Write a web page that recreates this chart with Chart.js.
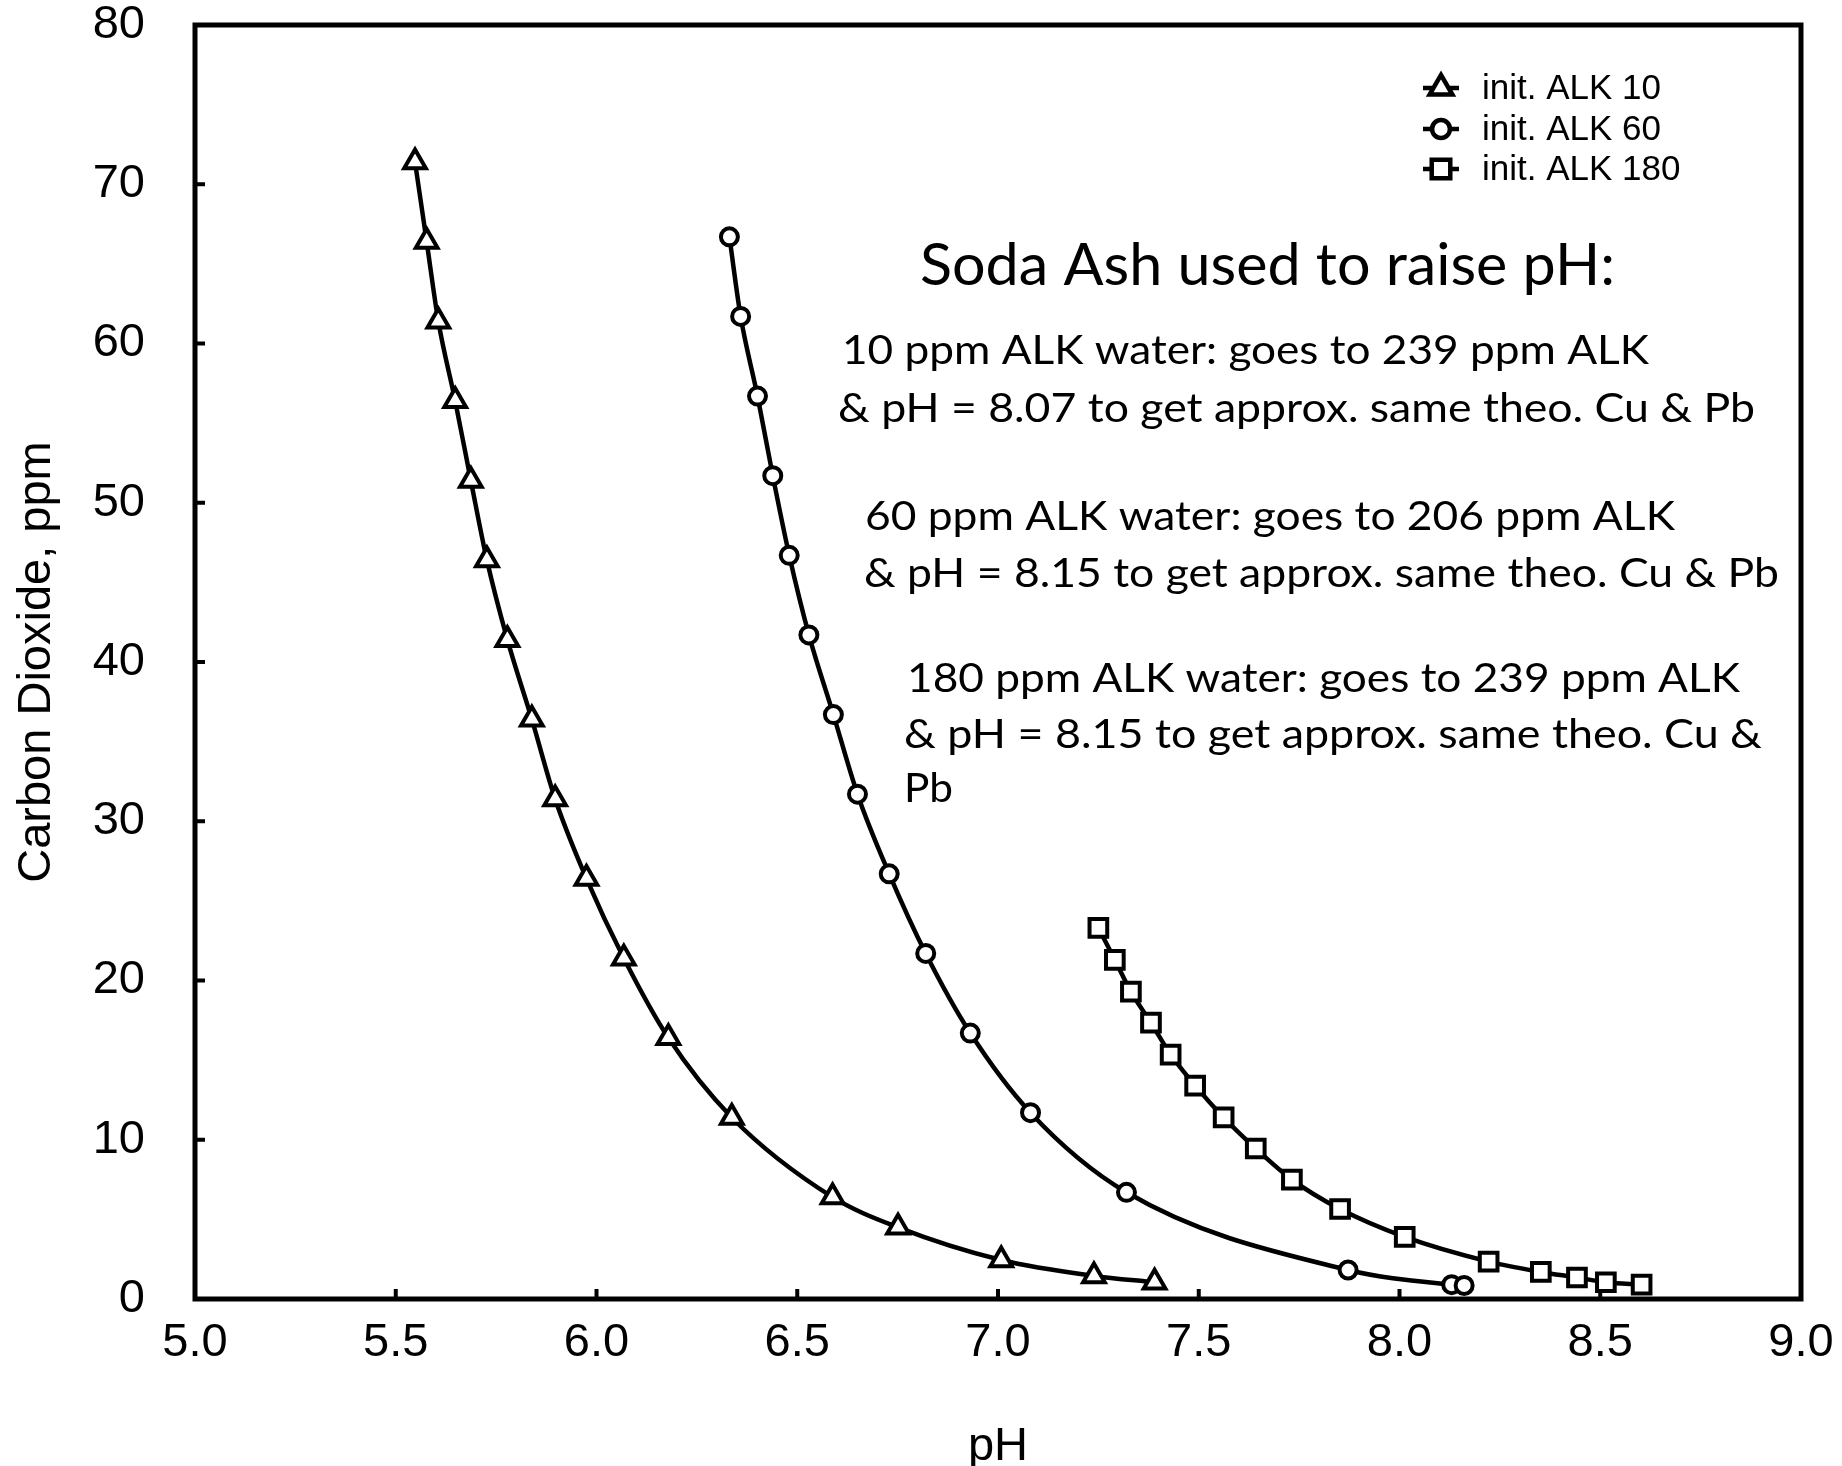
<!DOCTYPE html>
<html lang="en">
<head>
<meta charset="UTF-8">
<title>Carbon Dioxide vs pH</title>
<script src="https://cdn.jsdelivr.net/npm/chart.js"></script>
<style>
  body { margin: 0; background: #fff; }
  #caixa { width: 1842px; height: 1466px; }
</style>
</head>
<body>
<div id="caixa"><canvas id="grafico" width="1842" height="1466"></canvas></div>

<script>
  // init. ALK 10 (triangles)
  const phAlk10 = [5.548, 5.577, 5.606, 5.648, 5.687, 5.727, 5.778, 5.839, 5.897,
                   5.975, 6.068, 6.179, 6.337, 6.588, 6.751, 7.008, 7.239, 7.390];
  const co2Alk10 = [71.4, 66.4, 61.4, 56.4, 51.4, 46.4, 41.4, 36.4, 31.4,
                    26.4, 21.4, 16.4, 11.4, 6.4, 4.5, 2.45, 1.45, 1.05];

  // init. ALK 60 (circles)
  const phAlk60 = [6.331, 6.359, 6.401, 6.439, 6.480, 6.529, 6.590, 6.650,
                   6.729, 6.820, 6.931, 7.081, 7.320, 7.872, 8.130, 8.161];
  const co2Alk60 = [66.7, 61.7, 56.7, 51.7, 46.7, 41.7, 36.7, 31.7,
                    26.7, 21.7, 16.7, 11.7, 6.7, 1.82, 0.9, 0.85];

  // init. ALK 180 (squares)
  const phAlk180 = [7.250, 7.291, 7.331, 7.381, 7.430, 7.491, 7.562, 7.642,
                    7.732, 7.852, 8.013, 8.222, 8.352, 8.442, 8.514, 8.603];
  const co2Alk180 = [23.3, 21.3, 19.3, 17.35, 15.35, 13.4, 11.4, 9.45,
                     7.5, 5.65, 3.9, 2.35, 1.7, 1.35, 1.05, 0.9];

  const nomesSeries = ['init. ALK 10', 'init. ALK 60', 'init. ALK 180'];

  const ticksPH = [5.0, 5.5, 6.0, 6.5, 7.0, 7.5, 8.0, 8.5, 9.0];
  const ticksCO2 = [0, 10, 20, 30, 40, 50, 60, 70, 80];

  const tituloNota = 'Soda Ash used to raise pH:';
  const linhasNota = [
    '10 ppm ALK water: goes to 239 ppm ALK',
    '& pH = 8.07 to get approx. same theo. Cu & Pb',
    '60 ppm ALK water: goes to 206 ppm ALK',
    '& pH = 8.15 to get approx. same theo. Cu & Pb',
    '180 ppm ALK water: goes to 239 ppm ALK',
    '& pH = 8.15 to get approx. same theo. Cu &',
    'Pb'
  ];
</script>

<script>
  const arial = "'Liberation Sans', Arial, Helvetica, sans-serif";
  Chart.defaults.font.family = arial;
  Chart.defaults.font.size = 47;
  Chart.defaults.color = '#000';

  function pares(xs, ys) {
    var lista = [];
    for (var i = 0; i < xs.length; i++) {
      lista.push({ x: xs[i], y: ys[i] });
    }
    return lista;
  }

  const estilos = ['triangle', 'circle', 'rect'];
  const raios = [12.5, 8.5, 12.5];

  function serie(i, xs, ys) {
    return {
      label: nomesSeries[i],
      data: pares(xs, ys),
      borderColor: '#000',
      borderWidth: 4.5,
      cubicInterpolationMode: 'monotone',
      pointStyle: estilos[i],
      pointRadius: raios[i],
      pointHoverRadius: raios[i],
      pointBackgroundColor: '#fff',
      pointBorderColor: '#000',
      pointBorderWidth: 4,
      fill: false
    };
  }

  // the axes keep the plot box fixed: no extra room for label overflow
  function semFolga(scale) {
    scale.paddingTop = 0;
    scale.paddingBottom = 0;
    scale.paddingLeft = 0;
    scale.paddingRight = 0;
  }

  // frame box, inward tick marks, legend and the soda ash note
  const extras = {
    id: 'extras',
    afterDraw(chart) {
      const ctx = chart.ctx;
      const a = chart.chartArea;
      const sx = chart.scales.x;
      const sy = chart.scales.y;

      ctx.save();
      ctx.strokeStyle = '#000';
      ctx.lineWidth = 4;
      ctx.lineCap = 'butt';
      ctx.beginPath();
      sx.ticks.forEach(function (t) {
        const px = sx.getPixelForValue(t.value);
        ctx.moveTo(px, a.bottom);
        ctx.lineTo(px, a.bottom - 10);
      });
      sy.ticks.forEach(function (t) {
        const py = sy.getPixelForValue(t.value);
        ctx.moveTo(a.left, py);
        ctx.lineTo(a.left + 10, py);
      });
      ctx.stroke();

      ctx.lineWidth = 5;
      ctx.lineJoin = 'miter';
      ctx.strokeRect(a.left, a.top, a.right - a.left, a.bottom - a.top);

      // legend
      const lx = a.right - 360;
      const filas = [a.top + 63, a.top + 104, a.top + 144];
      chart.data.datasets.forEach(function (ds, i) {
        const y = filas[i];
        ctx.strokeStyle = '#000';
        ctx.lineWidth = 4.5;
        ctx.beginPath();
        ctx.moveTo(lx - 18, y);
        ctx.lineTo(lx + 18, y);
        ctx.stroke();
        ctx.fillStyle = '#fff';
        ctx.lineWidth = 4.5;
        Chart.helpers.drawPoint(ctx, {
          pointStyle: ds.pointStyle,
          radius: ds.pointRadius * 1.05,
          borderWidth: 4.5,
          rotation: 0
        }, lx, y);
        ctx.fillStyle = '#000';
        ctx.font = '35px ' + arial;
        ctx.textAlign = 'left';
        ctx.textBaseline = 'middle';
        ctx.fillText(ds.label, lx + 41, y + 1);
      });

      // note text, each line fitted to its width
      function linha(txt, x, base, tam, largura) {
        ctx.font = tam + 'px Lato, "Open Sans", sans-serif';
        const w = ctx.measureText(txt).width;
        const k = largura / w;
        ctx.save();
        ctx.translate(x, base);
        ctx.scale(k, 1);
        ctx.fillText(txt, 0, 0);
        ctx.restore();
      }
      ctx.fillStyle = '#000';
      ctx.textAlign = 'left';
      ctx.textBaseline = 'alphabetic';
      linha(tituloNota, 920, 285, 58, 695);
      const xs = [842, 838, 865, 864, 907, 904, 904];
      const bases = [364, 422, 530, 587, 692, 748, 802];
      const larguras = [807, 917, 810, 915, 833, 858, 49];
      linhasNota.forEach(function (t, i) {
        linha(t, xs[i], bases[i], 41, larguras[i]);
      });
      ctx.restore();
    }
  };

  const ctx = document.getElementById('grafico');

  new Chart(ctx, {
    type: 'line',
    data: {
      datasets: [
        serie(0, phAlk10, co2Alk10),
        serie(1, phAlk60, co2Alk60),
        serie(2, phAlk180, co2Alk180)
      ]
    },
    options: {
      responsive: false,
      animation: false,
      devicePixelRatio: 1,
      layout: { padding: { left: 0, top: 25, right: 41, bottom: 0 } },
      plugins: {
        legend: { display: false },
        tooltip: { enabled: false }
      },
      scales: {
        x: {
          type: 'linear',
          min: 5,
          max: 9,
          afterBuildTicks: function (scale) {
            scale.ticks = ticksPH.map(function (v) { return { value: v }; });
          },
          afterFit: function (scale) {
            scale.height = 167;
            semFolga(scale);
          },
          grid: { display: false, drawTicks: false },
          border: { display: false },
          ticks: {
            autoSkip: false,
            maxRotation: 0,
            padding: 16,
            callback: function (v) { return Number(v).toFixed(1); }
          },
          title: {
            display: true,
            text: 'pH',
            font: { lineHeight: 0.8 },
            padding: { top: 0, bottom: 0 }
          }
        },
        y: {
          type: 'linear',
          min: 0,
          max: 80,
          afterBuildTicks: function (scale) {
            scale.ticks = ticksCO2.map(function (v) { return { value: v }; });
          },
          afterFit: function (scale) {
            scale.width = 195;
            semFolga(scale);
          },
          grid: { display: false, drawTicks: false },
          border: { display: false },
          ticks: {
            autoSkip: false,
            padding: 50
          },
          title: {
            display: true,
            text: 'Carbon Dioxide, ppm',
            padding: { top: 9, bottom: 0 }
          }
        }
      }
    },
    plugins: [extras]
  });
</script>
</body>
</html>
